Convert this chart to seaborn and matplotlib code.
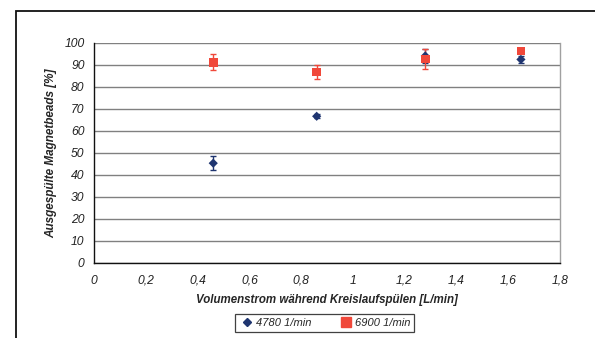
import matplotlib
matplotlib.use("Agg")
import matplotlib.pyplot as plt
import seaborn as sns
import pandas as pd
from matplotlib.patches import Rectangle
from matplotlib.lines import Line2D

# Data
flow = [0.46, 0.86, 1.28, 1.65]
s4780 = [45.3, 66.6, 94.0, 92.4]
e4780 = [3.3, 1.0, 3.0, 1.5]
s6900 = [91.1, 86.7, 92.6, 96.2]
e6900 = [3.7, 3.3, 4.5, 1.0]
labels = ["4780 1/min", "6900 1/min"]
xticks = [0, 0.2, 0.4, 0.6, 0.8, 1.0, 1.2, 1.4, 1.6, 1.8]
yticks = list(range(0, 101, 10))

sns.set_theme(style="white")
plt.rcParams['font.family'] = ['Liberation Sans', 'DejaVu Sans']

blue = "#1f3570"
red = "#f0483a"

df = pd.DataFrame({
    "flow": flow * 2,
    "val": s4780 + s6900,
    "err": e4780 + e6900,
    "series": [labels[0]] * 4 + [labels[1]] * 4,
})

fig = plt.figure(figsize=(5.95, 3.38), dpi=100)
ax = fig.add_axes([0.1585, 0.2219, 0.7822, 0.6518])

# outer chart border
fig.patches.append(Rectangle((16 / 595, -0.1), 1.2, 1 - 11 / 338 + 0.1,
                             transform=fig.transFigure, fill=False,
                             edgecolor="#111111", linewidth=1.3, zorder=0))

for lab, col, m, size in [(labels[0], blue, "D", 22), (labels[1], red, "s", 40)]:
    d = df[df.series == lab]
    ax.errorbar(d.flow, d.val, yerr=d.err, fmt="none", ecolor=col,
                elinewidth=1.0, capsize=2.5, capthick=1.0, zorder=3)
    sns.scatterplot(data=d, x="flow", y="val", color=col, marker=m, s=size,
                    edgecolor="none", ax=ax, legend=False, zorder=4)

ax.set_xlim(0, 1.8)
ax.set_ylim(0, 100)
ax.set_xticks(xticks)
ax.set_xticklabels([("%g" % t).replace(".", ",") for t in xticks],
                   fontsize=8.7, style="italic", color="#222222")
ax.set_yticks(yticks)
ax.set_yticklabels([str(t) for t in yticks], fontsize=8.7, style="italic",
                   color="#222222")
ax.yaxis.grid(True, color="#808080", linewidth=1.0)
ax.xaxis.grid(False)
ax.set_axisbelow(True)
ax.tick_params(axis="both", which="major", length=3, width=0.8,
               color="#222222", direction="out", pad=4)
ax.tick_params(axis="x", pad=5.5)
for side in ["left", "bottom"]:
    ax.spines[side].set_color("#111111")
    ax.spines[side].set_linewidth(1.0)
ax.spines["right"].set_color("#a0a0a0")
ax.spines["right"].set_linewidth(1.0)
ax.spines["top"].set_visible(False)

ax.set_xlabel("Volumenstrom während Kreislaufspülen [L/min]", fontsize=8.3,
              fontweight="bold", style="italic", labelpad=5)
ax.set_ylabel("Ausgespülte Magnetbeads [%]", fontsize=8.5, fontweight="bold",
              style="italic", labelpad=5)

handles = [Line2D([], [], linestyle="none", marker="D", color=blue, markersize=4.5),
           Line2D([], [], linestyle="none", marker="s", color=red, markersize=6.5)]
leg = fig.legend(handles, labels, loc="center", bbox_to_anchor=(0.546, 0.045),
                 ncol=2, fontsize=8, frameon=True, fancybox=False,
                 edgecolor="#111111", handletextpad=0.1, columnspacing=2.4,
                 borderpad=0.35, handlelength=1.4)
leg.get_frame().set_linewidth(0.9)
for t in leg.get_texts():
    t.set_style("italic")

fig.savefig("out.png", dpi=100)
